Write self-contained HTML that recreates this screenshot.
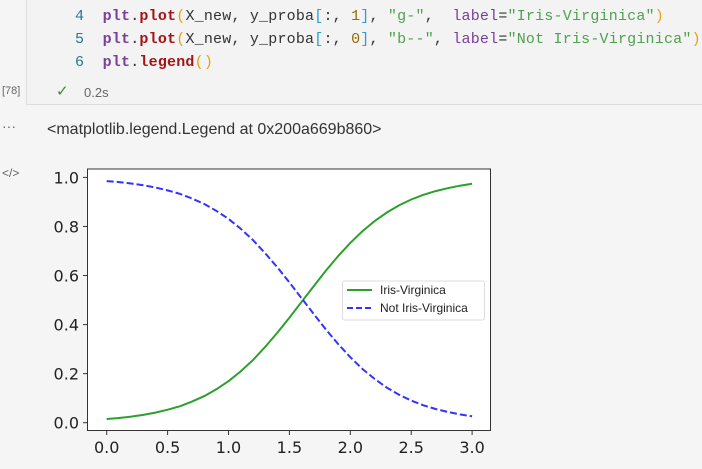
<!DOCTYPE html>
<html><head><meta charset="utf-8">
<style>
body{margin:0;width:702px;height:469px;background:#f5f5f5;position:relative;overflow:hidden;font-family:"Liberation Sans",sans-serif}
.code{position:absolute;left:26px;top:0;width:690px;height:104px;background:#f3f3f3;border-left:1px solid #ddd;border-bottom:1px solid #ddd}
.ln{position:absolute;font-family:"Liberation Mono",monospace;font-size:15px;white-space:pre;color:#333;letter-spacing:0.2px}
.num{color:#237893}
.p{color:#7a3e9d;font-weight:bold}.f{color:#a31515;font-weight:bold}.s{color:#50a14f}.k{color:#7a3e9d}.b1{color:#e5a50a}.b2{color:#2a9fd6}.n{color:#986801}
.t{position:absolute;font-size:13px;color:#666}
</style></head><body>
<div class="code"></div>
<div class="ln" style="left:75px;top:8px"><span class="num">4</span>  <span class="p">plt</span>.<span class="f">plot</span><span class="b1">(</span>X_new, y_proba<span class="b2">[</span>:, <span class="n">1</span><span class="b2">]</span>, <span class="s">"g-"</span>,  <span class="k">label</span>=<span class="s">"Iris-Virginica"</span><span class="b1">)</span></div>
<div class="ln" style="left:75px;top:31px"><span class="num">5</span>  <span class="p">plt</span>.<span class="f">plot</span><span class="b1">(</span>X_new, y_proba<span class="b2">[</span>:, <span class="n">0</span><span class="b2">]</span>, <span class="s">"b--"</span>, <span class="k">label</span>=<span class="s">"Not Iris-Virginica"</span><span class="b1">)</span></div>
<div class="ln" style="left:75px;top:54px"><span class="num">6</span>  <span class="p">plt</span>.<span class="f">legend</span><span class="b1">()</span></div>
<div class="t" style="left:2px;top:85px;font-size:11px">[78]</div>
<div class="t" style="left:56px;top:82px;color:#388a34;font-size:15px">✓</div>
<div class="t" style="left:84px;top:85px">0.2s</div>
<div class="t" style="left:2px;top:118px;font-size:14px">···</div>
<div class="t" style="left:47px;top:121px;font-size:16px;color:#333">&lt;matplotlib.legend.Legend at 0x200a669b860&gt;</div>
<div class="t" style="left:2px;top:166px;font-size:12px">&lt;/&gt;</div>
<svg id="chart" width="702" height="469" style="position:absolute;left:0;top:0"></svg>
<script>
const xs=[0,0.1,0.2,0.3,0.4,0.5,0.6,0.7,0.8,0.9,1.0,1.1,1.2,1.3,1.4,1.5,1.6,1.7,1.8,1.9,2.0,2.1,2.2,2.3,2.4,2.5,2.6,2.7,2.8,2.9,3.0];
const virginica=[0.015,0.019,0.025,0.032,0.041,0.053,0.067,0.086,0.108,0.136,0.169,0.209,0.255,0.308,0.366,0.428,0.493,0.557,0.620,0.679,0.733,0.781,0.822,0.857,0.886,0.910,0.929,0.944,0.956,0.966,0.974];
const notVirginica=[0.985,0.981,0.975,0.968,0.959,0.947,0.933,0.914,0.892,0.864,0.831,0.791,0.745,0.692,0.634,0.572,0.507,0.443,0.380,0.321,0.267,0.219,0.178,0.143,0.114,0.090,0.071,0.056,0.044,0.034,0.026];
const xTicks=[0,0.5,1.0,1.5,2.0,2.5,3.0];
const yTicks=[0,0.2,0.4,0.6,0.8,1.0];
const NS="http://www.w3.org/2000/svg";
const svg=document.getElementById('chart');
const X=v=>106.7+v*121.8, Y=v=>422.7-v*245.3;
function mk(t,a){const e=document.createElementNS(NS,t);for(const k in a)e.setAttribute(k,a[k]);svg.appendChild(e);return e;}
let e=mk('rect',{x:87.5,y:169,width:403,height:261.5,fill:'#fff',stroke:'#333','stroke-width':1});


xTicks.forEach(v=>{
 let l=mk('line',{x1:X(v),x2:X(v),y1:430.5,y2:435,stroke:'#333'});
 
 
 let t=mk('text',{x:X(v),y:453,'text-anchor':'middle','font-size':'16','font-family':'DejaVu Sans, sans-serif',fill:'#222'});
 t.textContent=v.toFixed(1);
 
 
});
yTicks.forEach(v=>{
 let l=mk('line',{x1:83,x2:87.5,y1:Y(v),y2:Y(v),stroke:'#333'});
 
 
 let t=mk('text',{x:79,y:Y(v)+6,'text-anchor':'end','font-size':'16','font-family':'DejaVu Sans, sans-serif',fill:'#222'});
 t.textContent=v.toFixed(1);
 
 
});
const pts=a=>a.map((v,i)=>X(xs[i]).toFixed(1)+','+Y(v).toFixed(1)).join(' ');
let g=mk('polyline',{points:pts(virginica),fill:'none',stroke:'#2ca02c','stroke-width':2});


let b=mk('polyline',{points:pts(notVirginica),fill:'none',stroke:'#3333ff','stroke-width':2,'stroke-dasharray':'7,3'});


let lg=mk('rect',{x:342.5,y:281,width:142,height:39,rx:2,fill:'#fff',stroke:'#ddd'});


let l1=mk('line',{x1:347,x2:372,y1:290,y2:290,stroke:'#2ca02c','stroke-width':2});


let t1=mk('text',{x:380,y:294,'font-size':'12','fill':'#222'});t1.textContent='Iris-Virginica';


let l2=mk('line',{x1:347,x2:372,y1:308,y2:308,stroke:'#3333ff','stroke-width':2,'stroke-dasharray':'6,3'});


let t2=mk('text',{x:380,y:312,'font-size':'12','fill':'#222'});t2.textContent='Not Iris-Virginica';


</script>
</body></html>
